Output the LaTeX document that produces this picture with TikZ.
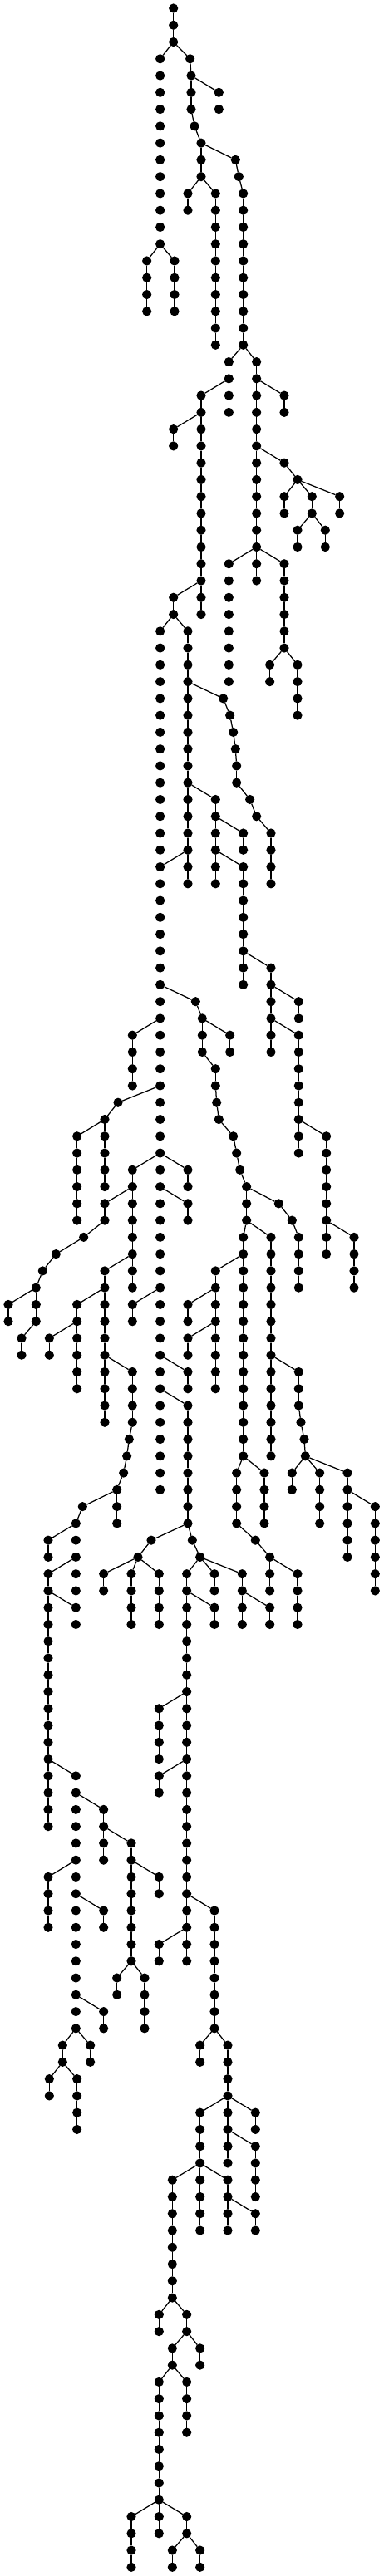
\documentclass[tikz,border=0pt]{standalone}
\tikzset{
  dot/.style={circle,fill=black,inner sep=0pt,outer sep=0pt,minimum size=11.2pt},
  edge/.style={draw=black,line width=1.25pt}
}
\begin{document}
\begin{tikzpicture}[x=0.33333pt,y=-20.265pt]
\fill[white,use as bounding box] (0,0) rectangle (1386,153.0215);
\foreach \x/\a/\b in {
626/0/2,578/3/14,530/15/18,630/15/18,686/3/3,690/4/6,790/5/6,702/7/7,726/8/10,850/9/9,862/10/10,878/11/20,
678/11/12,778/11/20,826/21/24,926/21/32,1026/23/24,726/23/36,626/25/26,1026/27/27,1074/28/28,1026/29/30,
1126/29/30,1226/29/30,1074/31/32,1174/31/32,826/33/40,926/33/34,1026/33/38,626/35/36,578/37/50,678/37/52,
974/39/40,1074/39/42,806/41/41,830/42/42,842/43/43,850/44/44,854/45/46,902/47/47,926/48/48,978/49/52,
778/47/52,878/49/50,878/51/58,578/51/88,706/59/59,730/60/62,830/61/62,778/63/64,978/57/62,1078/59/60,
1078/61/68,478/61/64,426/65/65,378/66/70,278/67/72,1178/67/74,782/65/65,790/66/66,842/67/67,854/68/68,
866/69/69,890/70/72,1006/71/71,1054/72/72,1078/73/76,878/73/86,978/73/86,778/75/82,478/69/76,678/69/70,
678/71/72,378/71/72,302/73/73,202/74/74,154/75/75,130/76/78,378/75/84,1278/73/76,30/77/78,278/77/82,
478/77/78,678/77/78,78/79/80,178/79/80,678/79/80,478/81/84,466/85/85,458/86/86,446/87/87,422/88/90,
298/89/89,678/81/82,678/83/90,1078/81/83,1086/84/84,1098/85/85,1102/86/86,854/87/90,954/87/90,1054/87/88,
1154/87/90,1254/87/92,1354/89/94,274/90/94,174/91/92,174/93/108,274/95/96,546/91/91,694/91/91,498/92/92,
722/92/92,374/93/94,474/93/96,574/93/96,674/93/116,774/93/94,874/93/96,774/95/96,974/95/96,922/91/91,
974/92/94,1074/93/96,574/101/104,574/105/106,274/105/120,374/107/110,474/109/116,574/111/112,174/111/114,
374/113/114,774/113/120,574/115/116,374/119/120,226/121/122,326/121/122,178/123/124,278/123/126,422/117/118,
522/117/120,722/121/122,822/121/124,722/125/128,822/125/128,922/125/126,922/127/130,622/129/136,722/129/132,
822/129/132,922/131/132,574/137/138,674/137/138,622/139/140,722/139/140,574/141/148,674/141/144,474/149/152,
574/149/150,674/149/150,622/151/152,722/151/152}
{
  \foreach \l in {\a,...,\b}{
    \node[dot] (n\x-\l) at (\x,\l+0.4935) {};
    \ifnum\l>\a\relax
      \pgfmathtruncatemacro\p{\l-1}
      \draw[edge] (n\x-\p) -- (n\x-\l);
    \fi
  }
}
\foreach \x/\l/\y in {
626/2/578,626/2/686,686/3/690,690/4/790,690/6/702,702/7/726,726/8/850,850/9/862,862/10/878,726/10/678,726/10/778,
578/14/530,578/14/630,878/20/826,878/20/926,826/22/726,726/24/626,926/22/1026,926/26/1026,1026/27/1074,
1074/28/1026,1074/28/1126,1074/28/1226,1126/30/1074,1126/30/1174,926/32/826,926/32/926,926/32/1026,726/34/626,
626/36/578,626/36/678,1026/38/974,1026/38/1074,678/40/806,806/41/830,830/42/842,842/43/850,850/44/854,854/46/902,
902/47/926,926/48/978,678/46/778,778/48/878,778/50/878,678/50/578,578/58/706,706/59/730,730/60/830,730/62/778,
578/60/478,878/56/978,978/58/1078,978/60/1078,578/64/426,426/65/378,378/66/278,778/64/782,782/65/790,790/66/842,
842/67/854,854/68/866,866/69/890,890/70/1006,1006/71/1054,1054/72/1078,890/72/878,890/72/978,878/74/778,
1078/66/1178,1178/72/1278,578/68/478,578/68/678,578/70/678,478/70/378,378/72/302,302/73/202,202/74/154,154/75/130,
130/76/30,478/74/378,378/76/278,578/76/478,778/76/678,130/78/78,278/78/178,778/78/678,378/80/478,478/84/466,
466/85/458,458/86/446,446/87/422,422/88/298,298/89/274,578/80/678,578/82/678,878/86/854,878/86/954,978/80/1078,
1078/83/1086,1086/84/1098,1098/85/1102,1102/86/1054,1102/86/1154,1102/86/1254,1254/88/1354,274/90/174,274/92/174,
174/94/274,678/90/546,678/90/694,546/91/498,498/92/374,498/92/474,498/92/574,694/91/722,722/92/674,722/92/774,
722/92/874,674/94/774,874/94/974,854/90/922,922/91/974,974/92/1074,674/100/574,674/104/574,174/104/274,274/106/374,
374/108/474,474/110/574,274/110/174,274/112/374,674/112/774,674/114/574,274/118/374,274/120/226,274/120/326,
226/122/178,226/122/278,474/116/422,474/116/522,774/120/722,774/120/822,822/124/722,822/124/822,822/124/922,
822/126/922,722/128/622,722/128/722,722/128/822,822/130/922,622/136/574,622/136/674,674/138/622,674/138/722,
622/140/574,622/140/674,574/148/474,574/148/574,574/148/674,674/150/622,674/150/722}
{
  \pgfmathtruncatemacro\m{\l+1}
  \draw[edge] (n\x-\l) -- (n\y-\m);
}
\end{tikzpicture}
\end{document}
